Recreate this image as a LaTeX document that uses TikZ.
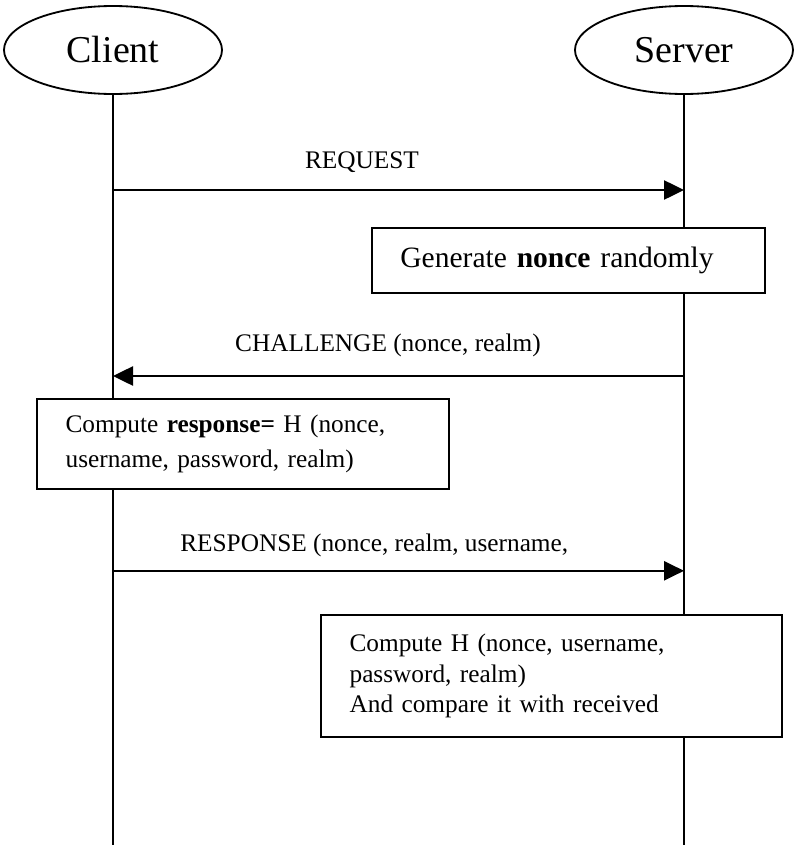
\documentclass[tikz,border=0pt]{standalone}
\usepackage{fontspec}
\setmainfont{Liberation Serif}
\usepackage{tikz}
\usetikzlibrary{calc, positioning, shapes.geometric, arrows.meta}

\begin{document}
\begin{tikzpicture}[
    actor/.style=
    {draw, ellipse, line width=1.3pt, minimum width=5.45cm, minimum height=2.2cm,
     font=\fontsize{27}{32}\selectfont}, lifeline/.style=
    {line width=1.3pt},
    msg/.style=
    {line width=1.3pt, -{Triangle[length=0.5cm, width=0.48cm]}},
    msglabel/.style=
    {font=\fontsize{18}{22}\selectfont, inner sep=0pt},
    stepbox/.style=
    {draw, line width=1.3pt, align=left, inner xsep=0.72cm, inner ysep=0pt,
     font=\fontsize{18}{22}\selectfont}]
    \useasboundingbox (0,0) rectangle (19.925,-21.125);
    % actors and lifelines
    \node (client) [actor] at (2.825,-1.25) {Client};
    \node (server) [actor] at (17.1,-1.25) {Server};
    \coordinate (client end) at (client |- 0,-21.125);
    \coordinate (server end) at (server |- 0,-21.125);
    \draw[lifeline] (client.south) -- (client end);
    \draw[lifeline] (server.south) -- (server end);
    % request
    \coordinate (req a) at (client |- 0,-4.75);
    \coordinate (req b) at (server |- 0,-4.75);
    \draw[msg] (req a) -- (req b);
    \node (req label) [msglabel] at (9.05,-4.05) {REQUEST};
    \node (gen) [stepbox, fill=white, text width=8.4cm, minimum height=1.625cm,
        font=\fontsize{21}{25}\selectfont] at (14.21,-6.51)
        {Generate \textbf{nonce} randomly};
    % challenge
    \coordinate (chal a) at (server |- 0,-9.4);
    \coordinate (chal b) at (client |- 0,-9.4);
    \draw[msg] (chal a) -- (chal b);
    \node (chal label) [msglabel] at (9.7,-8.625) {CHALLENGE (nonce, realm)};
    \node (comp client) [stepbox, fill=white, text width=8.86cm, minimum height=2.25cm,
        font=\fontsize{18}{25}\selectfont] at (6.07,-11.1)
        {Compute \textbf{response=} H (nonce,\\ username, password, realm)};
    % response
    \coordinate (resp a) at (client |- 0,-14.27);
    \coordinate (resp b) at (server |- 0,-14.27);
    \draw[msg] (resp a) -- (resp b);
    \node (resp label) [msglabel, anchor=west] at (4.5,-13.625)
        {RESPONSE (nonce, realm,\ username,};
    \node (comp server) [stepbox, fill=white, text width=10.08cm, minimum height=3.05cm,
        font=\fontsize{18}{21.5}\selectfont] at (13.78,-16.9)
        {Compute H (nonce, username,\\ password, realm)\\ And compare it with received};
\end{tikzpicture}
\end{document}
